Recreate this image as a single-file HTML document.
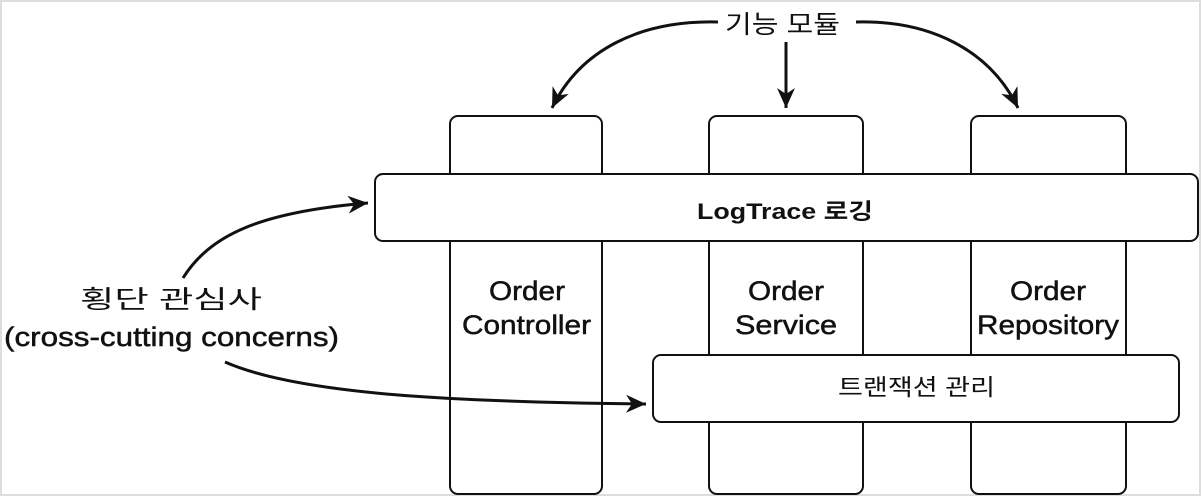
<!DOCTYPE html>
<html><head><meta charset="utf-8"><style>
html,body{margin:0;padding:0;background:#fff;}
svg{display:block;}
text{font-family:"Liberation Sans","Noto Sans CJK KR",sans-serif;fill:#111;}
.m{stroke:#111;stroke-width:0.5;}
</style></head><body>
<svg width="1202" height="498" viewBox="0 0 1202 498" xmlns="http://www.w3.org/2000/svg">
<rect x="1" y="1" width="1199" height="494" fill="#fff" stroke="#ddd" stroke-width="2"/>
<defs>
<marker id="b" viewBox="0 0 24 24" refX="22" refY="12" markerWidth="24" markerHeight="24" markerUnits="userSpaceOnUse" orient="auto">
<path d="M2,3 L22,12 L2,21 L8,12 Z" fill="#111"/>
</marker>
</defs>
<g fill="#fff" stroke="#111" stroke-width="2">
<rect x="450" y="116" width="152" height="378" rx="8"/>
<rect x="709" y="116" width="154" height="378" rx="8"/>
<rect x="971" y="116" width="155" height="378" rx="8"/>
<rect x="375" y="174" width="823" height="67" rx="8"/>
<rect x="653" y="355" width="526" height="67" rx="8"/>
</g>
<text x="697" y="219" font-size="22" font-weight="bold" textLength="176" lengthAdjust="spacingAndGlyphs">LogTrace 로깅</text>
<text x="838" y="395" font-size="23" textLength="157" lengthAdjust="spacingAndGlyphs">트랜잭션 관리</text>
<g font-size="27">
<g class="m">
<text x="489" y="300" textLength="76" lengthAdjust="spacingAndGlyphs">Order</text>
<text x="462" y="334" textLength="129" lengthAdjust="spacingAndGlyphs">Controller</text>
<text x="748" y="300" textLength="76" lengthAdjust="spacingAndGlyphs">Order</text>
<text x="735" y="334" textLength="102" lengthAdjust="spacingAndGlyphs">Service</text>
<text x="1010" y="300" textLength="76" lengthAdjust="spacingAndGlyphs">Order</text>
<text x="977" y="334" textLength="142" lengthAdjust="spacingAndGlyphs">Repository</text>
<text x="4" y="346" textLength="335" lengthAdjust="spacingAndGlyphs">(cross-cutting concerns)</text>
</g>
<text x="725" y="33" font-size="25" textLength="115" lengthAdjust="spacingAndGlyphs">기능 모듈</text>
<text x="80" y="308" font-size="25" textLength="182" lengthAdjust="spacingAndGlyphs">횡단 관심사</text>
</g>
<g fill="none" stroke="#111" stroke-width="3">
<path d="M718,22 C640,20 580,50 552,108" marker-end="url(#b)"/>
<path d="M786,42 L786,108" marker-end="url(#b)"/>
<path d="M856,22 C930,20 990,50 1018,108" marker-end="url(#b)"/>
<path d="M183,278 C210,235 260,212 368,203" marker-end="url(#b)"/>
<path d="M225,362 C300,395 460,402 646,404" marker-end="url(#b)"/>
</g>
</svg>
</body></html>
